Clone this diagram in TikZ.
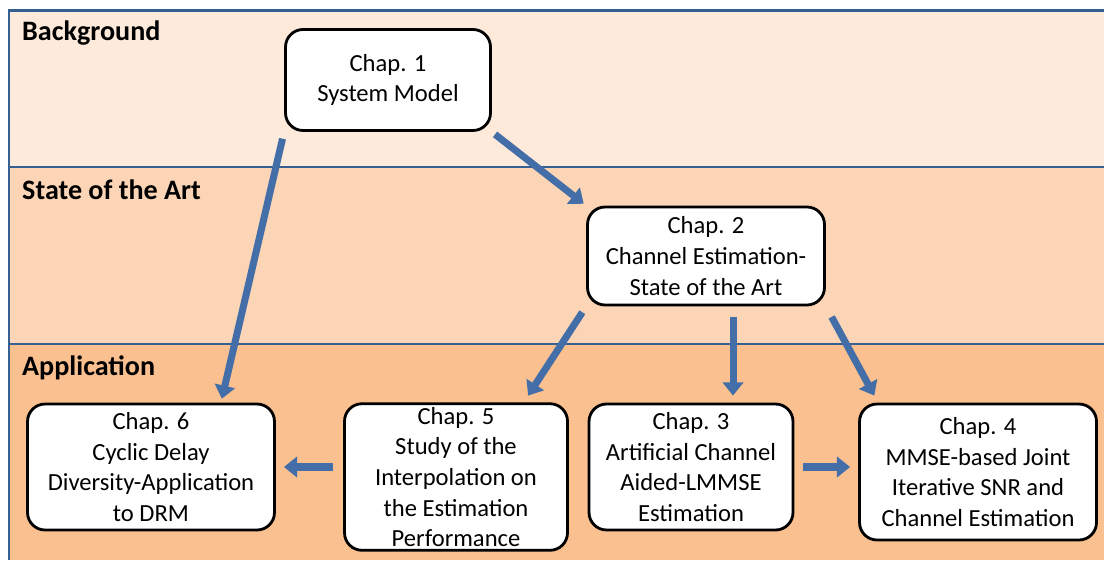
\documentclass[tikz,border=0pt]{standalone}
\usepackage{fontspec}
\setmainfont{Carlito}
\usetikzlibrary{calc, arrows.meta}

\definecolor{bandA}{RGB}{253,234,218}
\definecolor{bandB}{RGB}{251,213,181}
\definecolor{bandC}{RGB}{250,192,144}
\definecolor{rule}{RGB}{54,96,146}
\definecolor{arr}{RGB}{68,110,168}

\tikzset{
  chap/.style={draw=black, line width=1.6pt, fill=white, rounded corners=0.35cm,
    align=center, inner sep=2pt, font=\fontsize{14}{17.4}\selectfont},
  flow/.style={draw=arr, line width=4pt, -{Triangle[width=11.5pt,length=7.5pt]}},
  band/.style={anchor=west, font=\bfseries\fontsize{16}{19}\selectfont}
}

\begin{document}
\begin{tikzpicture}[x=0.02cm, y=-0.02cm]
  \useasboundingbox (0,0) rectangle (1104,564);

  % Bands
  \fill[bandA] (9,10.5) rectangle (1104,167);
  \fill[bandB] (9,167) rectangle (1104,344);
  \fill[bandC] (9,344) rectangle (1104,560);
  \draw[rule, line width=1.2pt] (1104,10.5) -- (9,10.5) -- (9,560);
  \draw[rule, line width=1.2pt] (9,167) -- (1104,167);
  \draw[rule, line width=1.2pt] (9,344) -- (1104,344);

  % Band labels
  \node[band] (lbg) at (16,33) {Background};
  \node[band] (lsa) at (16,190) {State of the Art};
  \node[band] (lap) at (16,368) {Application};

  % Chapters
  \node[chap, minimum width=4.1cm, minimum height=2.02cm] (c1) at (388,80)
    {Chap. 1\\System Model};
  \node[chap, minimum width=4.74cm, minimum height=1.96cm] (c2) at (706,256)
    {Chap. 2\\Channel Estimation-\\State of the Art};
  \node[chap, minimum width=4.94cm, minimum height=2.52cm] (c6) at (151,467)
    {Chap. 6\\Cyclic Delay\\Diversity-Application\\to DRM};
  \node[chap, minimum width=4.46cm, minimum height=2.92cm] (c5) at (456,477)
    {Chap. 5\\Study of the\\Interpolation on\\the Estimation\\Performance};
  \node[chap, minimum width=4.08cm, minimum height=2.52cm] (c3) at (691,467)
    {Chap. 3\\Artificial Channel\\Aided-LMMSE\\Estimation};
  \node[chap, minimum width=4.74cm, minimum height=2.72cm] (c4) at (978,472)
    {Chap. 4\\MMSE-based Joint\\Iterative SNR and\\Channel Estimation};

  % Arrows
  \draw[flow, shorten <=0.14cm, shorten >=0.08cm] (c1.south west) -- ($(c6.north west)!0.78!(c6.north east)$);
  \draw[flow, shorten <=0.08cm, shorten >=0.06cm] (c1.south east) -- (c2.north west);
  \draw[flow, shorten <=0.14cm, shorten >=0.16cm] (c2.south west) -- ($(c5.north west)!0.8!(c5.north east)$);
  \draw[flow, shorten <=0.22cm, shorten >=0.14cm] ($(c2.south)+(27,0)$) -- ($(c3.north)+(42,0)$);
  \draw[flow, shorten <=0.24cm, shorten >=0.16cm] (c2.south east) -- ($(c4.north west)+(20,0)$);
  \draw[flow, shorten <=0.2cm, shorten >=0.16cm] (c6.east -| c5.west) -- (c6.east);
  \draw[flow, shorten <=0.18cm, shorten >=0.16cm] (c3.east) -- (c4.west |- c3.east);
\end{tikzpicture}
\end{document}
